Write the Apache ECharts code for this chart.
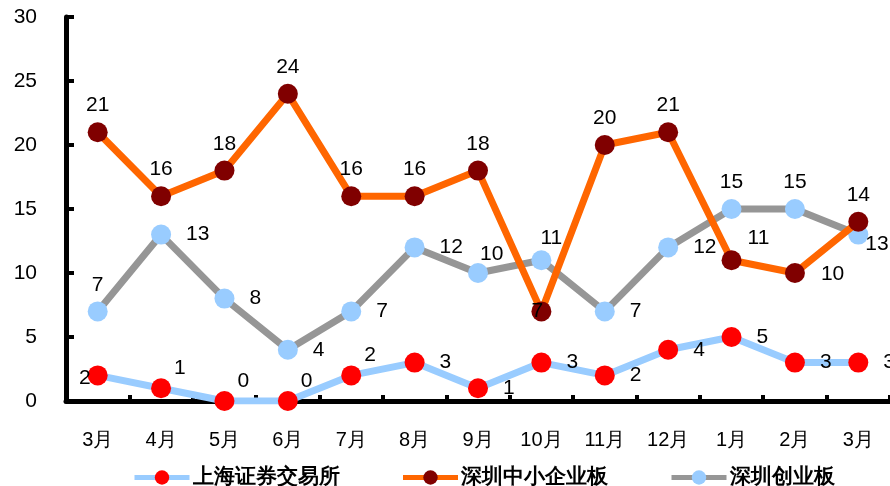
<!DOCTYPE html>
<html>
<head>
<meta charset="utf-8">
<script src="https://cdn.jsdelivr.net/npm/echarts@6/dist/echarts.min.js"></script>
<style>
  html, body { margin: 0; padding: 0; background: #fff; }
  #main { width: 890px; height: 486px; }
</style>
</head>
<body>
<div id="main"></div>
<script>
  // 月份
  var months = ['3月', '4月', '5月', '6月', '7月', '8月', '9月', '10月', '11月', '12月', '1月', '2月', '3月'];
  var shanghai = [2, 1, 0, 0, 2, 3, 1, 3, 2, 4, 5, 3, 3];
  var smeBoard = [21, 16, 18, 24, 16, 16, 18, 7, 20, 21, 11, 10, 14];
  var gemBoard = [7, 13, 8, 4, 7, 12, 10, 11, 7, 12, 15, 15, 13];
  var yTicks = [0, 5, 10, 15, 20, 25, 30];

  var font = 'Liberation Sans, Arial, sans-serif';
  var lblStyle = { show: true, color: '#000', fontSize: 21, fontFamily: font };

  var myChart = echarts.init(document.getElementById('main'));
  var option = {
    animation: false,
    grid: { left: 66, top: 17, width: 829, bottom: 85 },
    legend: {
      left: 127, top: 462,
      itemWidth: 55, itemHeight: 18, itemGap: 61,
      lineStyle: { width: 5 },
      textStyle: { fontSize: 21, fontWeight: 'bold', color: '#000', fontFamily: font, padding: [0, 0, 0, -2] },
      data: ['上海证券交易所', '深圳中小企业板', '深圳创业板']
    },
    xAxis: {
      type: 'category',
      data: months,
      boundaryGap: true,
      axisLine: { lineStyle: { color: '#000', width: 5 } },
      axisTick: { show: true, inside: true, length: 6, lineStyle: { color: '#000', width: 4 } },
      axisLabel: { color: '#000', fontSize: 20, fontFamily: font, margin: 29 },
      splitLine: { show: false }
    },
    yAxis: {
      type: 'value',
      min: yTicks[0], max: yTicks[yTicks.length - 1], interval: 5,
      axisLine: { show: true, lineStyle: { color: '#000', width: 5 } },
      axisTick: { show: true, inside: true, length: 8, lineStyle: { color: '#000', width: 4 } },
      axisLabel: { color: '#000', fontSize: 21, fontFamily: font, margin: 29 },
      splitLine: { show: false }
    },
    series: [
      {
        name: '深圳创业板',
        type: 'line',
        data: gemBoard.map(function (v, i) {
          if (i === 0 || i === 10 || i === 11) return { value: v, label: { position: 'top', distance: 6 } };
          if (i === 6) return { value: v, label: { position: 'right', offset: [-23, -19] } };
          if (i === 7) return { value: v, label: { position: 'right', offset: [-26, -22] } };
          if (i === 12) return { value: v, label: { position: 'right', distance: -3, offset: [0, 10] } };
          return { value: v };
        }),
        lineStyle: { color: '#969696', width: 7 },
        itemStyle: { color: '#99ccff' },
        symbol: 'circle', symbolSize: 20,
        label: Object.assign({}, lblStyle, { position: 'right', distance: 15 }),
        z: 2
      },
      {
        name: '深圳中小企业板',
        type: 'line',
        data: smeBoard.map(function (v, i) {
          if (i === 7) return { value: v, label: { position: 'inside', offset: [-4, 0] } };
          if (i === 10) return { value: v, label: { position: 'right', distance: 6, offset: [0, -22] } };
          if (i === 11) return { value: v, label: { position: 'right', distance: 16, offset: [0, 1] } };
          return { value: v };
        }),
        lineStyle: { color: '#ff6600', width: 7 },
        itemStyle: { color: '#800000' },
        symbol: 'circle', symbolSize: 20,
        label: Object.assign({}, lblStyle, { position: 'top', distance: 6 }),
        z: 3
      },
      {
        name: '上海证券交易所',
        type: 'line',
        data: shanghai.map(function (v, i) {
          if (i === 0) return { value: v, label: { position: 'left', distance: -3, offset: [0, 3] } };
          if (i >= 1 && i <= 4) return { value: v, label: { offset: [-12, -20] } };
          return { value: v };
        }),
        lineStyle: { color: '#99ccff', width: 7 },
        itemStyle: { color: '#ff0000' },
        symbol: 'circle', symbolSize: 20,
        label: Object.assign({}, lblStyle, { position: 'right', distance: 15 }),
        z: 4
      }
    ]
  };
  myChart.setOption(option);
</script>
</body>
</html>
